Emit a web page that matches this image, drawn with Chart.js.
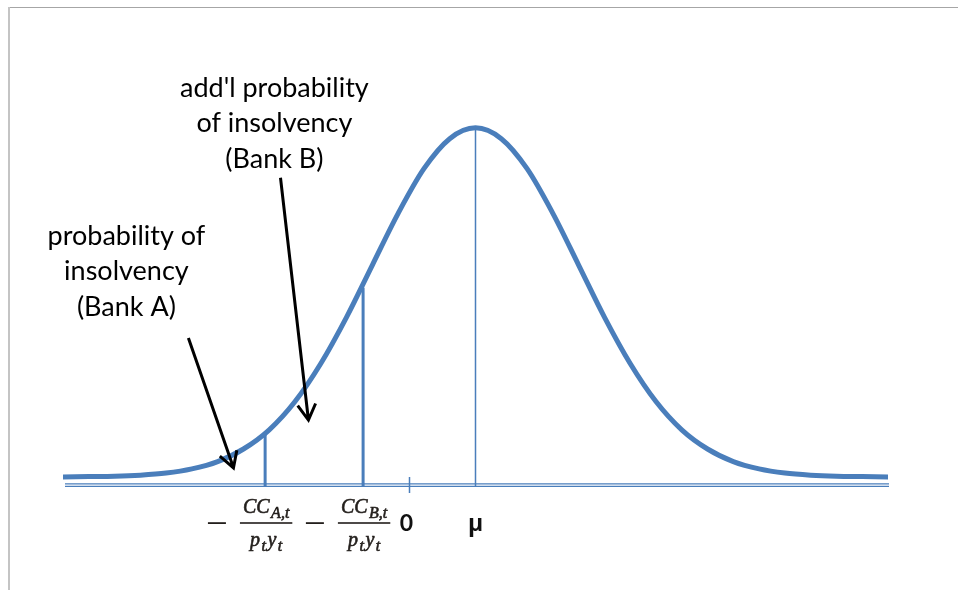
<!DOCTYPE html>
<html>
<head>
<meta charset="utf-8">
<script src="https://cdn.jsdelivr.net/npm/chart.js@4.4.1/dist/chart.umd.min.js"></script>
<style>
  html, body { margin: 0; padding: 0; background: #fff; }
  #wrap { width: 958px; height: 590px; position: relative; }
</style>
</head>
<body>
<div id="wrap"><canvas id="chart" width="958" height="590"></canvas></div>
<script>
// curve, in standard deviations around mu (peak = 1)
const curveX = [-4, -3.75, -3.5, -3.25, -3, -2.75, -2.5, -2.25, -2, -1.75, -1.5, -1.25, -1, -0.75, -0.5, -0.25,
                0, 0.25, 0.5, 0.75, 1, 1.25, 1.5, 1.75, 2, 2.25, 2.5, 2.75, 3, 3.25, 3.5, 3.75, 4];
const curveY = [0.000, 0.001, 0.002, 0.005, 0.011, 0.023, 0.044, 0.080, 0.135, 0.216, 0.325, 0.458, 0.607, 0.755, 0.883, 0.969,
                1.000, 0.969, 0.883, 0.755, 0.607, 0.458, 0.325, 0.216, 0.135, 0.080, 0.044, 0.023, 0.011, 0.005, 0.002, 0.001, 0.000];

// marked points on the axis
const markerNames = ['ccA', 'ccB', 'zero', 'mu'];
const markerX = [-2.04, -1.09, -0.64, 0];
const markerTop = [0.125, 0.542, null, 1.0];

// notes with arrows
const noteLines = [['probability of', 'insolvency', '(Bank A)'], ["add'l probability", 'of insolvency', '(Bank B)']];
const noteX = [-3.385, -1.95];
const noteY = [0.665, 1.089];
const arrowFromX = [-2.784, -1.891];
const arrowFromY = [0.398, 0.857];
const arrowToX = [-2.347, -1.620];
const arrowToY = [0.026, 0.163];

const yMin = -0.026;
const yMax = 1.309;
const blue = '#4a7ebb';

function vline(i, width) {
    return {
        data: [{ x: markerX[i], y: yMin }, { x: markerX[i], y: markerTop[i] }],
        borderColor: blue, borderWidth: width, pointRadius: 0, borderCapStyle: 'butt'
    };
}

function drawRuns(ctx, runs, cx, baseline, size) {
    const mainFont = `italic ${size}px "Liberation Serif", serif`;
    const subFont = `italic ${Math.round(size * 0.82)}px "Liberation Serif", serif`;
    const gap = 1.5;
    let total = 0;
    runs.forEach(r => { ctx.font = r[1] ? subFont : mainFont; total += ctx.measureText(r[0]).width + gap; });
    total -= gap;
    let x = cx - total / 2;
    runs.forEach(r => {
        ctx.font = r[1] ? subFont : mainFont;
        const y = baseline + (r[1] ? 5 : 0);
        ctx.fillText(r[0], x, y);
        ctx.strokeText(r[0], x, y);
        x += ctx.measureText(r[0]).width + gap;
    });
    return total;
}

function drawFraction(ctx, cx, barY, sub) {
    ctx.save();
    ctx.fillStyle = '#231f1c';
    ctx.strokeStyle = '#231f1c';
    ctx.lineWidth = 0.6;
    ctx.textAlign = 'left';
    ctx.textBaseline = 'alphabetic';
    const wNum = drawRuns(ctx, [['CC', 0], [sub + ',t', 1]], cx, barY - 10, 20);
    const wDen = drawRuns(ctx, [['p', 0], ['t', 1], ['y', 0], ['t', 1]], cx, barY + 23, 20);
    const w = Math.max(wNum, wDen) + 6;
    ctx.fillRect(cx - w / 2, barY - 0.8, w, 1.6);
    // leading minus sign
    ctx.fillRect(cx - w / 2 - 32, barY - 0.8, 18, 1.8);
    ctx.restore();
}

function drawArrow(ctx, x1, y1, x2, y2) {
    const a = Math.atan2(y2 - y1, x2 - x1);
    const len = 18, spread = Math.PI / 6;
    ctx.beginPath();
    ctx.moveTo(x1, y1);
    ctx.lineTo(x2, y2);
    ctx.moveTo(x2 - len * Math.cos(a - spread), y2 - len * Math.sin(a - spread));
    ctx.lineTo(x2, y2);
    ctx.lineTo(x2 - len * Math.cos(a + spread), y2 - len * Math.sin(a + spread));
    ctx.stroke();
}

const overlay = {
    id: 'overlay',
    beforeDraw(chart) {
        const ctx = chart.ctx;
        ctx.save();
        ctx.fillStyle = '#a6a6a6';
        ctx.fillRect(8, 7, chart.width - 8, 1);
        ctx.fillStyle = '#c4c4c4';
        ctx.fillRect(8, 7, 2, chart.height - 7);
        ctx.restore();
    },
    beforeDatasetsDraw(chart) {
        const ctx = chart.ctx;
        const xs = chart.scales.x, ys = chart.scales.y;
        const left = xs.getPixelForValue(xs.min) + 2, right = xs.getPixelForValue(xs.max) + 1;
        const yb = ys.getPixelForValue(yMin);
        ctx.save();
        ctx.strokeStyle = blue;
        ctx.lineWidth = 1.2;
        [yb - 2.2, yb + 0.3].forEach(y => {
            ctx.beginPath(); ctx.moveTo(left, y); ctx.lineTo(right, y); ctx.stroke();
        });
        // tick at zero
        const zx = xs.getPixelForValue(markerX[2]);
        ctx.lineWidth = 1.5;
        ctx.beginPath(); ctx.moveTo(zx, yb - 9); ctx.lineTo(zx, yb + 7); ctx.stroke();
        ctx.restore();
    },
    afterDatasetsDraw(chart) {
        const ctx = chart.ctx;
        const xs = chart.scales.x, ys = chart.scales.y;
        const yb = ys.getPixelForValue(yMin);
        ctx.save();
        // axis labels
        drawFraction(ctx, xs.getPixelForValue(markerX[0]) + 1, yb + 37, 'A');
        drawFraction(ctx, xs.getPixelForValue(markerX[1]) + 1, yb + 37, 'B');
        ctx.fillStyle = '#111';
        ctx.textAlign = 'center';
        ctx.textBaseline = 'alphabetic';
        ctx.font = 'bold 23px Lato, "Open Sans", sans-serif';
        ctx.fillText('0', xs.getPixelForValue(markerX[2]) - 3, yb + 45);
        ctx.font = 'bold 23px "Open Sans", Lato, sans-serif';
        ctx.fillText('μ', xs.getPixelForValue(markerX[3]), yb + 45);
        // notes
        ctx.fillStyle = '#000';
        ctx.font = '27px Lato, "Open Sans", sans-serif';
        noteLines.forEach((lines, i) => {
            const cx = xs.getPixelForValue(noteX[i]);
            const by = ys.getPixelForValue(noteY[i]);
            lines.forEach((t, k) => ctx.fillText(t, cx, by + k * 35.5));
        });
        ctx.strokeStyle = '#000';
        ctx.lineWidth = 3;
        ctx.lineCap = 'butt';
        ctx.lineJoin = 'miter';
        arrowFromX.forEach((fx, i) => {
            drawArrow(ctx, xs.getPixelForValue(fx), ys.getPixelForValue(arrowFromY[i]),
                xs.getPixelForValue(arrowToX[i]), ys.getPixelForValue(arrowToY[i]));
        });
        ctx.restore();
    }
};

new Chart(document.getElementById('chart').getContext('2d'), {
    type: 'line',
    data: {
        datasets: [
            {
                data: curveX.map((x, i) => ({ x: x, y: curveY[i] })),
                borderColor: blue, borderWidth: 5, pointRadius: 0,
                cubicInterpolationMode: 'monotone', borderCapStyle: 'round', borderJoinStyle: 'round'
            },
            vline(0, 3),
            vline(1, 3),
            vline(3, 1.5)
        ]
    },
    options: {
        responsive: false,
        animation: false,
        events: [],
        layout: { padding: { left: 63, right: 70, top: 20, bottom: 104 } },
        plugins: { legend: { display: false }, tooltip: { enabled: false } },
        scales: {
            x: { type: 'linear', min: -4, max: 4, display: false },
            y: { min: yMin, max: yMax, display: false }
        }
    },
    plugins: [overlay]
});
</script>
</body>
</html>
